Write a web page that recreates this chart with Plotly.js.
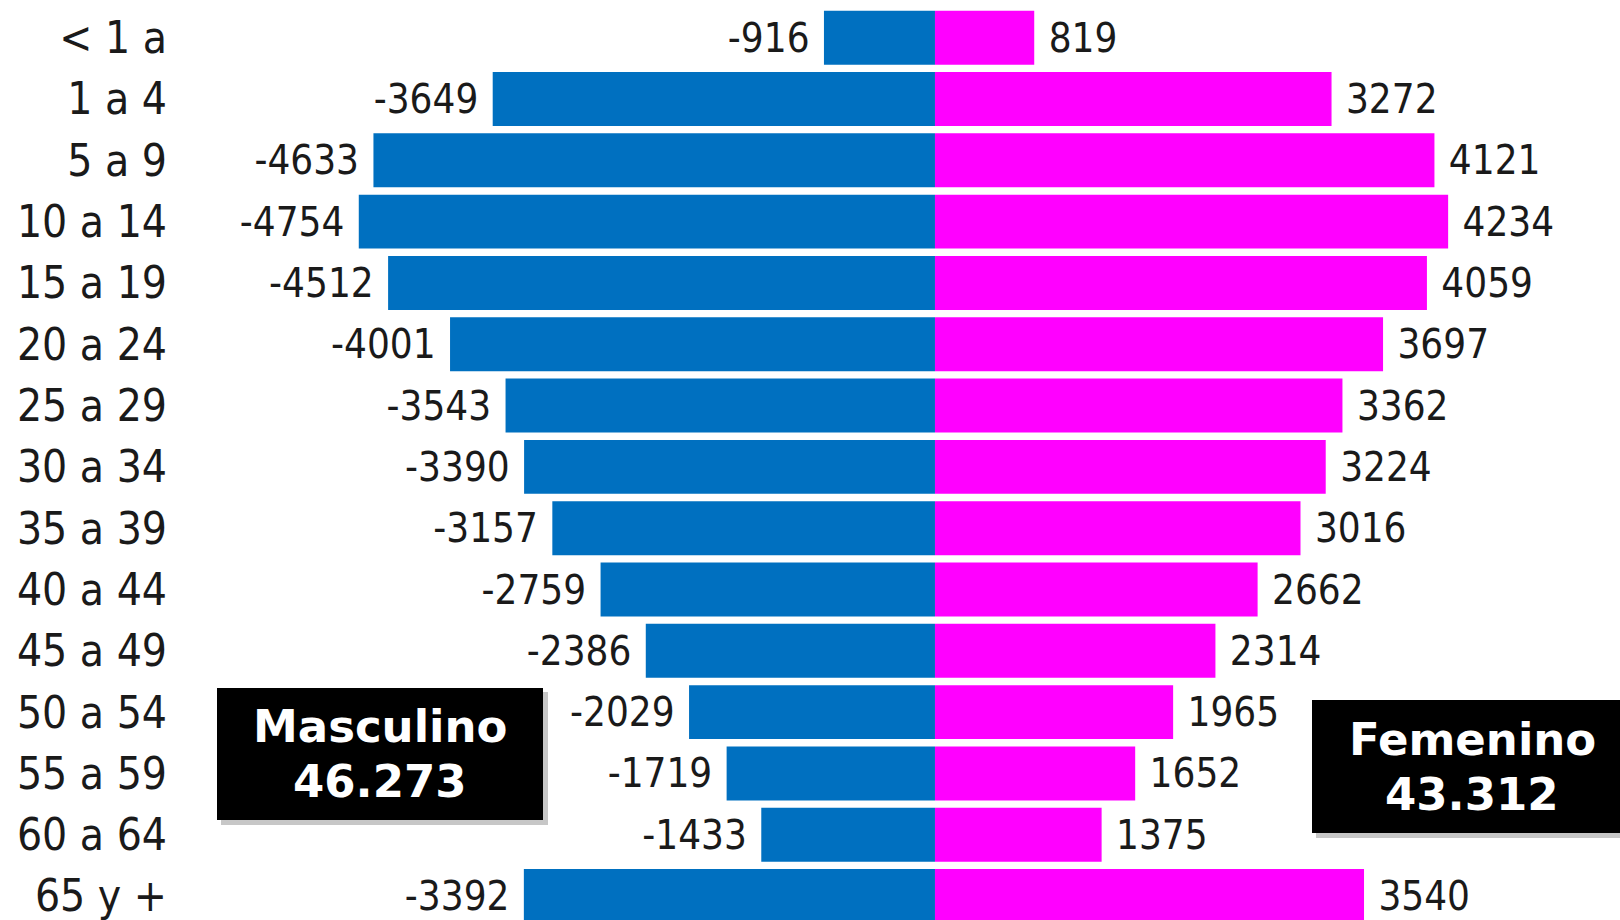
<!DOCTYPE html>
<html>
<head>
<meta charset="utf-8">
<script src="https://cdn.plot.ly/plotly-3.0.1.min.js"></script>
<style>
  html, body { margin: 0; padding: 0; background: #ffffff; }
  #chart { width: 1620px; height: 920px; }
</style>
</head>
<body>
<div id="chart"></div>
<script>
const ageGroups = ["< 1 a", "1 a 4", "5 a 9", "10 a 14", "15 a 19", "20 a 24", "25 a 29",
  "30 a 34", "35 a 39", "40 a 44", "45 a 49", "50 a 54", "55 a 59", "60 a 64", "65 y +"];
const masculino = [-916, -3649, -4633, -4754, -4512, -4001, -3543, -3390, -3157, -2759, -2386, -2029, -1719, -1433, -3392];
const femenino = [819, 3272, 4121, 4234, 4059, 3697, 3362, 3224, 3016, 2662, 2314, 1965, 1652, 1375, 3540];
const totalLabels = ["Masculino", "Femenino"];
const totalValues = ["46.273", "43.312"];

const NB = "\u00a0";
const valueFont = { family: "DejaVu Sans Condensed, sans-serif", size: 40, color: "#1a1a1a" };

const traces = [
  {
    type: "bar", orientation: "h", name: totalLabels[0],
    y: ageGroups, x: masculino,
    marker: { color: "#0070C0", line: { width: 0 } },
    text: masculino.map(v => String(v) + NB),
    textposition: "outside", constraintext: "none", cliponaxis: false,
    textfont: valueFont, hoverinfo: "x+y"
  },
  {
    type: "bar", orientation: "h", name: totalLabels[1],
    y: ageGroups, x: femenino,
    marker: { color: "#FF00FF", line: { width: 0 } },
    text: femenino.map(v => NB + String(v)),
    textposition: "outside", constraintext: "none", cliponaxis: false,
    textfont: valueFont, hoverinfo: "x+y"
  }
];

// plot area in pixels: x 180..1620, y 7..920
const L = 180, W = 1440, T = 7, H = 913;
const px = X => (X - L) / W;
const py = Y => 1 - (Y - T) / H;

const boxFont = { family: "DejaVu Sans, sans-serif", size: 45, color: "#ffffff", weight: 700 };

const layout = {
  width: 1620, height: 920,
  margin: { l: L, r: 0, t: T, b: 0, pad: 0 },
  paper_bgcolor: "#ffffff", plot_bgcolor: "rgba(0,0,0,0)",
  barmode: "overlay", bargap: 0.12,
  showlegend: false,
  xaxis: { range: [-6229, 5652], visible: false, showgrid: false, zeroline: false, fixedrange: true },
  yaxis: {
    type: "category", categoryorder: "array", categoryarray: ageGroups,
    range: [14.39, -0.5], showgrid: false, zeroline: false, showline: false,
    ticks: "", ticklabelstandoff: 12,
    tickfont: { family: "DejaVu Sans Condensed, sans-serif", size: 44, color: "#1a1a1a" },
    fixedrange: true
  },
  shapes: [
    { type: "rect", xref: "paper", yref: "paper", x0: px(221), x1: px(548), y0: py(825), y1: py(692),
      fillcolor: "rgba(0,0,0,0.22)", line: { width: 0 }, layer: "above" },
    { type: "rect", xref: "paper", yref: "paper", x0: px(217), x1: px(543), y0: py(820), y1: py(688),
      fillcolor: "#000000", line: { width: 0 }, layer: "above" },
    { type: "rect", xref: "paper", yref: "paper", x0: px(1316), x1: px(1620), y0: py(838), y1: py(704),
      fillcolor: "rgba(0,0,0,0.22)", line: { width: 0 }, layer: "above" },
    { type: "rect", xref: "paper", yref: "paper", x0: px(1312), x1: px(1620), y0: py(833), y1: py(700),
      fillcolor: "#000000", line: { width: 0 }, layer: "above" }
  ],
  annotations: [
    { xref: "paper", yref: "paper", x: px(380), y: py(726), text: totalLabels[0], showarrow: false,
      xanchor: "center", yanchor: "middle", font: boxFont },
    { xref: "paper", yref: "paper", x: px(380), y: py(781), text: totalValues[0], showarrow: false,
      xanchor: "center", yanchor: "middle", font: boxFont },
    { xref: "paper", yref: "paper", x: px(1472), y: py(739), text: totalLabels[1], showarrow: false,
      xanchor: "center", yanchor: "middle", font: boxFont },
    { xref: "paper", yref: "paper", x: px(1472), y: py(794), text: totalValues[1], showarrow: false,
      xanchor: "center", yanchor: "middle", font: boxFont }
  ]
};

Plotly.newPlot("chart", traces, layout, { displayModeBar: false, staticPlot: true });
</script>
</body>
</html>
